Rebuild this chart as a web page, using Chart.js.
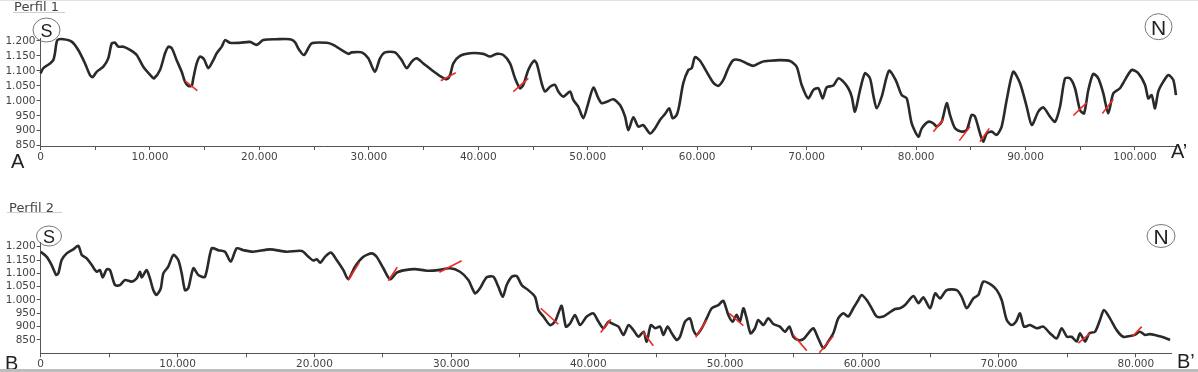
<!DOCTYPE html>
<html>
<head>
<meta charset="utf-8">
<script src="https://cdn.jsdelivr.net/npm/chart.js@4.4.0/dist/chart.umd.min.js"></script>
<style>
html, body { margin: 0; padding: 0; background: #fff; }
#wrap { position: relative; width: 1198px; height: 372px; overflow: hidden; }
canvas { position: absolute; left: 0; }
#c1 { top: 0; }
#c2 { top: 186px; }
</style>
</head>
<body>
<div id="wrap">
  <canvas id="c1" width="1198" height="186"></canvas>
  <canvas id="c2" width="1198" height="186"></canvas>
</div>
<script>
// Perfil 1 (A - A'), distance in m, elevation in m
const dist1 = [0, 260, 870, 1170, 1320, 1540, 2080, 2850, 3450, 4070, 4520, 4770, 5130, 5740, 6190, 6510, 6810, 7110, 7570, 8180,
  8790, 9390, 10160, 10370, 10920, 11380, 11680, 11990, 12440, 12900, 13200, 13500, 13820, 13960, 14270, 14570, 14940, 15330, 15790, 16100,
  16560, 16860, 17310, 18230, 19140, 19750, 20360, 21580, 22800, 23250, 23600, 24080, 24780, 26150, 26750, 28120, 28430, 29350, 29950, 30560,
  31020, 31480, 32390, 33000, 33460, 33920, 34370, 34980, 35740, 36500, 37110, 37420, 37720, 38330, 39240, 40460, 41070, 41680, 42290, 42900,
  43360, 43810, 44110, 44570, 45090, 45340, 45790, 46100, 46550, 47010, 47310, 47770, 48380, 48680, 49140, 49600, 50030, 50520, 50980, 51280,
  51740, 52340, 52950, 53410, 53710, 54170, 54620, 55080, 55690, 56150, 56600, 57060, 57450, 57760, 58130, 58370, 58730, 59190, 59500, 59800,
  60260, 60870, 61470, 61930, 62390, 62840, 63300, 63910, 64530, 65130, 65900, 66660, 67570, 68480, 69090, 69550, 70150, 70610, 71070, 71470,
  71830, 72440, 72900, 73350, 73810, 74120, 74420, 74880, 75330, 75790, 76090, 76400, 76860, 77530, 78170, 78690, 79150, 79600, 80210, 80520,
  81120, 81580, 81890, 82340, 82800, 83100, 83560, 84170, 84630, 85080, 85390, 85840, 86140, 86450, 86910, 87360, 87820, 88280, 88880, 89500,
  90110, 90570, 91170, 91630, 92240, 92700, 93150, 93610, 94070, 94520, 94980, 95350, 95740, 96190, 96650, 97110, 97560, 98020, 98630, 99090,
  99700, 100310, 100920, 101220, 101530, 101830, 102130, 102590, 103050, 103500, 103750];
const elev1 = [1092, 1109, 1125, 1136, 1159, 1203, 1206, 1198, 1170, 1125, 1086, 1079, 1097, 1114, 1142, 1192, 1194, 1181, 1181, 1170,
  1153, 1114, 1081, 1075, 1103, 1159, 1181, 1176, 1136, 1097, 1064, 1050, 1050, 1075, 1125, 1148, 1139, 1109, 1136, 1159,
  1181, 1203, 1194, 1194, 1197, 1187, 1203, 1206, 1206, 1196, 1172, 1153, 1192, 1194, 1187, 1157, 1162, 1162, 1142, 1097,
  1142, 1162, 1162, 1136, 1109, 1131, 1142, 1125, 1103, 1083, 1072, 1086, 1125, 1150, 1159, 1157, 1148, 1157, 1153, 1125,
  1075, 1042, 1053, 1103, 1134, 1125, 1059, 1031, 1047, 1053, 1031, 1014, 1031, 1003, 980, 942, 990, 1044, 1008, 992,
  997, 1005, 986, 947, 902, 945, 914, 919, 891, 908, 936, 956, 975, 942, 953, 986, 1059, 1103, 1109, 1146,
  1134, 1097, 1061, 1050, 1070, 1109, 1136, 1136, 1125, 1117, 1130, 1134, 1136, 1133, 1114, 1053, 1008, 1036, 1042, 1008,
  1045, 1051, 1075, 1064, 1042, 1014, 964, 1036, 1092, 1075, 1019, 975, 1014, 1101, 1067, 1019, 1008, 925, 880, 908,
  930, 925, 914, 930, 992, 953, 908, 897, 903, 953, 947, 891, 863, 891, 897, 886, 914, 1003, 1097, 1059,
  980, 919, 964, 978, 947, 930, 980, 1075, 1075, 1042, 969, 958, 1036, 1090, 1075, 1025, 958, 1025, 1042, 1070,
  1103, 1092, 1053, 1008, 1019, 975, 1031, 1064, 1086, 1070, 1019];
// fault marks: [x1, y1, x2, y2]
const faults1 = [[13200, 1067, 14330, 1034], [36570, 1067, 37940, 1094], [43200, 1031, 44570, 1075], [81580, 897, 82490, 938],
  [83950, 867, 84930, 914], [85840, 863, 86690, 908], [94370, 951, 95590, 994], [97020, 958, 98020, 1005]];

// Perfil 2 (B - B')
const dist2 = [0, 440, 800, 1130, 1290, 1530, 1900, 2380, 2750, 3000, 3360, 3730, 4090, 4330, 4530, 4820, 5060, 5430, 5790, 6160,
  6650, 7010, 7250, 7380, 7740, 7980, 8230, 8470, 8770, 8960, 9320, 9690, 10050, 10300, 10540, 10780, 11150, 11510, 12000, 12490,
  12970, 13460, 13880, 14320, 14800, 15530, 16750, 17970, 19080, 19560, 19920, 20170, 20420, 20770, 21200, 21620, 22110, 22470, 22960, 23570,
  24180, 24540, 25030, 25520, 26010, 26610, 27340, 28210, 29040, 29900, 30630, 31240, 31730, 32090, 32580, 33070, 33430, 33750, 34040, 34410,
  34770, 35140, 35620, 36110, 36360, 36720, 37210, 37570, 37810, 38060, 38370, 38670, 39030, 39400, 39890, 40370, 40740, 41110, 41480, 41720,
  42210, 42570, 42940, 43300, 43670, 44040, 44270, 44570, 44880, 45250, 45490, 45790, 46100, 46460, 46700, 47070, 47430, 47680, 47920, 48290,
  48650, 49020, 49500, 49860, 50230, 50550, 50840, 51080, 51330, 51570, 51860, 52180, 52420, 52790, 53150, 53520, 54000, 54370, 54690, 54980,
  55340, 55710, 56070, 56440, 56800, 57170, 57530, 57900, 58260, 58630, 59000, 59360, 59730, 59970, 60340, 60700, 61070, 61550, 61920, 62410,
  62770, 63140, 63750, 64120, 64480, 64970, 65340, 65700, 66180, 66910, 67280, 67650, 68130, 68500, 68860, 69470, 69840, 70200, 70570, 70930,
  71250, 71540, 71830, 72270, 72760, 73240, 73730, 74220, 74580, 74970, 75310, 75680, 75920, 76290, 76600, 77020, 77380, 77670, 78110, 78600,
  79080, 79570, 79930, 80300, 80660, 81030, 81390, 81890, 82500];
const elev2 = [1181, 1162, 1131, 1094, 1100, 1150, 1175, 1190, 1203, 1169, 1156, 1131, 1106, 1112, 1085, 1115, 1112, 1056, 1056, 1075,
  1069, 1081, 1106, 1085, 1112, 1081, 1037, 1019, 1044, 1100, 1125, 1169, 1150, 1100, 1037, 1044, 1119, 1094, 1087, 1194,
  1187, 1181, 1144, 1194, 1187, 1181, 1190, 1181, 1184, 1162, 1148, 1153, 1140, 1162, 1178, 1150, 1112, 1078, 1125, 1162,
  1175, 1162, 1119, 1078, 1103, 1112, 1116, 1110, 1112, 1119, 1106, 1075, 1025, 1044, 1085, 1087, 1050, 1012, 1056, 1087,
  1090, 1056, 1037, 1012, 962, 938, 906, 919, 950, 978, 900, 912, 944, 906, 938, 950, 919, 894, 919, 912,
  900, 869, 906, 887, 862, 881, 844, 906, 894, 900, 869, 900, 875, 850, 862, 919, 931, 887, 869, 894,
  931, 969, 981, 997, 944, 919, 944, 919, 969, 931, 875, 894, 925, 906, 931, 910, 900, 881, 900, 862,
  850, 853, 875, 894, 856, 819, 844, 875, 931, 950, 938, 969, 1000, 1019, 1000, 969, 938, 938, 950, 966,
  969, 981, 1015, 988, 1010, 969, 1025, 1006, 1037, 1037, 1012, 969, 1006, 1019, 1069, 1056, 1037, 1000, 925, 906,
  919, 950, 900, 906, 894, 900, 875, 856, 894, 862, 862, 844, 875, 844, 875, 881, 925, 962, 931, 887,
  862, 865, 869, 881, 869, 872, 869, 862, 850];
const faults2 = [[22470, 1075, 23270, 1140], [25390, 1072, 26050, 1123], [29120, 1104, 30750, 1147], [36530, 969, 37810, 909],
  [40910, 878, 41640, 928], [43980, 881, 44750, 828], [47850, 860, 48650, 925], [50300, 950, 51330, 904],
  [54980, 869, 55960, 810], [56880, 802, 57900, 865], [75800, 838, 76650, 875], [79740, 862, 80430, 900]];

const yTicks = [850, 900, 950, 1000, 1050, 1100, 1150, 1200];
const xTickStep = 5000;
const xLabelStep = 10000;

Chart.defaults.font.family = 'DejaVu Sans';
Chart.defaults.color = '#3c3c3c';

function fmt(v) {
    return String(v).replace(/\B(?=(\d{3})+(?!\d))/g, '.');
}

// annotations drawn on top of each panel (labels, circles, separators)
const annotate = {
    id: 'annotate',
    afterDraw(chart, args, opts) {
        const ctx = chart.ctx;
        ctx.save();
        (opts.items || []).forEach(it => {
            if (it.type === 'text') {
                ctx.font = it.font;
                ctx.fillStyle = it.color || '#222';
                ctx.textAlign = it.align || 'left';
                ctx.textBaseline = 'alphabetic';
                ctx.fillText(it.text, it.x, it.y);
            } else if (it.type === 'line') {
                ctx.strokeStyle = it.color;
                ctx.lineWidth = it.width || 1;
                ctx.beginPath();
                ctx.moveTo(it.x1, it.y1);
                ctx.lineTo(it.x2, it.y2);
                ctx.stroke();
            } else if (it.type === 'ellipse') {
                ctx.strokeStyle = '#6a6a6a';
                ctx.lineWidth = 0.9;
                ctx.beginPath();
                ctx.ellipse(it.x, it.y, it.rx, it.ry, 0, 0, Math.PI * 2);
                ctx.stroke();
            }
        });
        ctx.restore();
    }
};

function makeProfile(id, dist, elev, faults, cfg) {
    const xt = [];
    for (let v = 0; v <= cfg.xTickMax; v += xTickStep) xt.push(v);

    const faultSets = faults.map(f => ({
        data: [{ x: f[0], y: f[1] }, { x: f[2], y: f[3] }],
        borderColor: '#ec2b25',
        borderWidth: 1.6,
        pointRadius: 0,
        tension: 0
    }));

    return new Chart(document.getElementById(id), {
        type: 'line',
        data: {
            datasets: [...faultSets, {
                data: dist.map((d, i) => ({ x: d, y: elev[i] })),
                borderColor: '#2a2a2a',
                borderWidth: 2.6,
                pointRadius: 0,
                tension: 0.25,
                clip: false
            }]
        },
        options: {
            responsive: false,
            animation: false,
            layout: { padding: { top: cfg.top, right: cfg.right, left: 0, bottom: 0 } },
            plugins: {
                legend: { display: false },
                tooltip: { enabled: false },
                annotate: { items: cfg.items }
            },
            scales: {
                x: {
                    type: 'linear',
                    min: 0,
                    max: cfg.xMax,
                    afterBuildTicks: s => { s.ticks = xt.map(v => ({ value: v })); },
                    afterFit: s => { s.height = cfg.axisH; },
                    grid: { drawOnChartArea: false, tickLength: 4, color: '#555' },
                    border: { color: '#555', width: 1 },
                    ticks: {
                        padding: 1,
                        maxRotation: 0,
                        autoSkip: false,
                        font: { size: 10.5 },
                        color: '#444',
                        callback: v => (v % xLabelStep === 0 ? fmt(v) : '')
                    }
                },
                y: {
                    min: cfg.yMin,
                    max: cfg.yMax,
                    afterBuildTicks: s => { s.ticks = yTicks.map(v => ({ value: v })); },
                    afterFit: s => { s.width = cfg.left; },
                    grid: { drawOnChartArea: false, tickLength: 4, color: '#555' },
                    border: { color: '#555', width: 1 },
                    ticks: {
                        padding: 1,
                        autoSkip: false,
                        font: { size: 10.5 },
                        color: '#444',
                        callback: v => fmt(v)
                    }
                }
            }
        },
        plugins: [annotate]
    });
}

const bigFont = '20px "Liberation Sans"';

makeProfile('c1', dist1, elev1, faults1, {
    top: 38, right: 22, left: 40.5, axisH: 40,
    xMax: 103750, xTickMax: 100000, yMin: 849, yMax: 1210,
    items: [
        { type: 'line', x1: 0, y1: 0.5, x2: 1198, y2: 0.5, color: '#e2e2e2' },
        { type: 'text', text: 'Perfil 1', x: 14, y: 10.5, font: '13px "DejaVu Sans"', color: '#444' },
        { type: 'line', x1: 13, y1: 12.5, x2: 65, y2: 12.5, color: '#cfcfcf' },
        { type: 'ellipse', x: 46.5, y: 30, rx: 13.5, ry: 12 },
        { type: 'text', text: 'S', x: 46.5, y: 36.7, font: '18px "Liberation Sans"', color: '#222', align: 'center' },
        { type: 'ellipse', x: 1158.5, y: 26.7, rx: 13.5, ry: 13 },
        { type: 'text', text: 'N', x: 1158.5, y: 34.5, font: '21px "Liberation Sans"', color: '#222', align: 'center' },
        { type: 'text', text: 'A', x: 11, y: 168, font: bigFont, color: '#222' },
        { type: 'text', text: 'A\u2019', x: 1171, y: 158.3, font: bigFont, color: '#222' }
    ]
});

makeProfile('c2', dist2, elev2, faults2, {
    top: 56.7, right: 26.3, left: 40.7, axisH: 18.7,
    xMax: 82620, xTickMax: 80000, yMin: 800, yMax: 1215,
    items: [
        { type: 'text', text: 'Perfil 2', x: 9, y: 25.7, font: '13px "DejaVu Sans"', color: '#444' },
        { type: 'line', x1: 7, y1: 26.5, x2: 62, y2: 26.5, color: '#cfcfcf' },
        { type: 'ellipse', x: 49, y: 50, rx: 12.5, ry: 10 },
        { type: 'text', text: 'S', x: 49, y: 56.5, font: '18px "Liberation Sans"', color: '#222', align: 'center' },
        { type: 'ellipse', x: 1161, y: 50, rx: 14, ry: 11.5 },
        { type: 'text', text: 'N', x: 1161, y: 57.5, font: '21px "Liberation Sans"', color: '#222', align: 'center' },
        { type: 'text', text: 'B', x: 5, y: 184, font: bigFont, color: '#222' },
        { type: 'text', text: 'B\u2019', x: 1177, y: 182, font: bigFont, color: '#222' },
        { type: 'line', x1: 0, y1: 184.5, x2: 1198, y2: 184.5, color: '#bdbdbd', width: 3 }
    ]
});
</script>
</body>
</html>
